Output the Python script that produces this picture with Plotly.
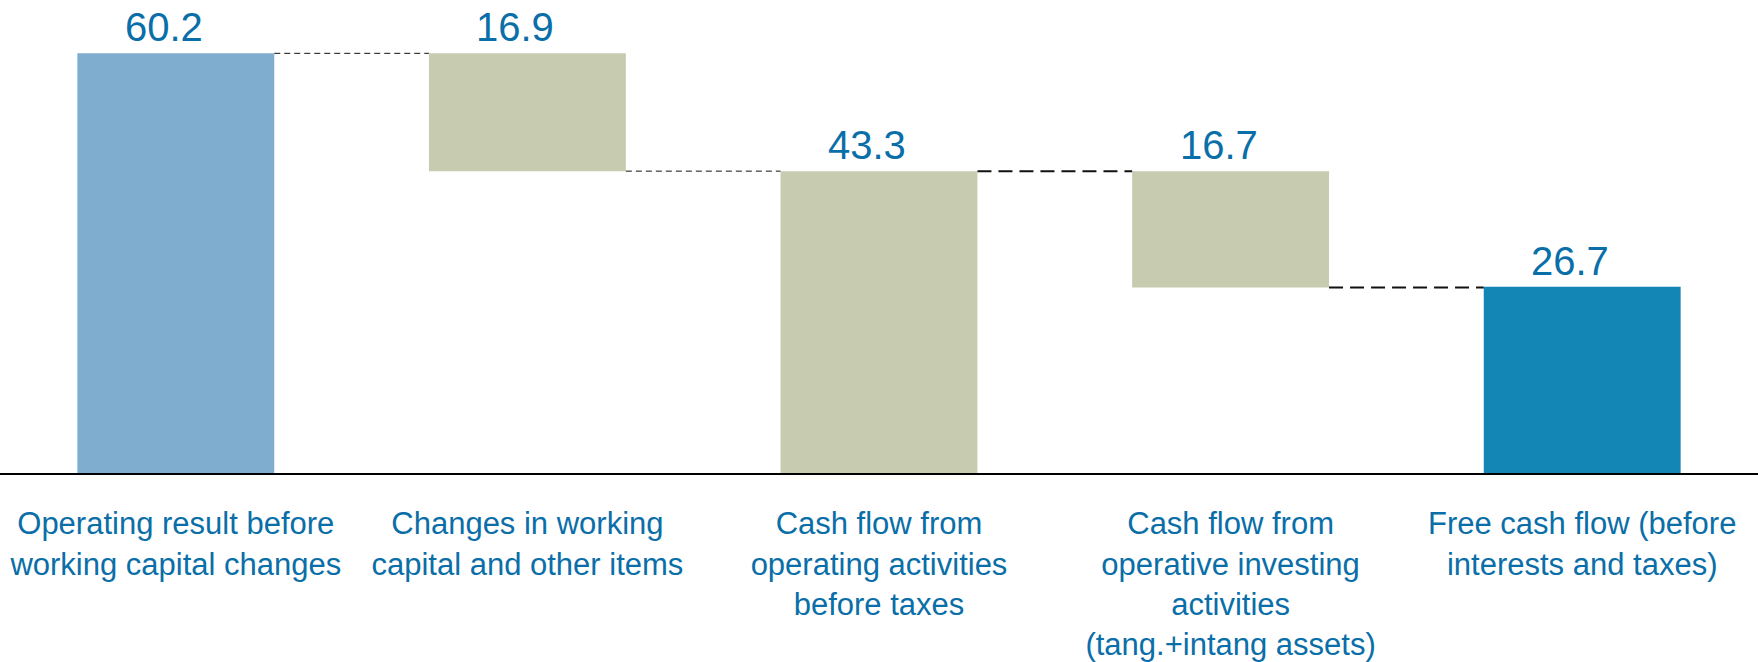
import plotly.graph_objects as go

# ---- data ----
categories = [
    "Operating result before<br>working capital changes",
    "Changes in working<br>capital and other items",
    "Cash flow from<br>operating activities<br>before taxes",
    "Cash flow from<br>operative investing<br>activities<br>(tang.+intang assets)",
    "Free cash flow (before<br>interests and taxes)",
]
values = [60.2, -16.9, 43.3, -16.7, 26.7]
kinds = ["total", "delta", "total", "delta", "total"]
labels = ["60.2", "16.9", "43.3", "16.7", "26.7"]
colors = ["#7EADCF", "#C7CCB0", "#C7CCB0", "#C7CCB0", "#1386B6"]

TEXT_BLUE = "#0A6EA8"
FONT = "Liberation Sans, Arial, sans-serif"
BAR_W = 0.56

# compute floating bar geometry
bases, heights = [], []
prev_total = 0.0
for i, (v, k) in enumerate(zip(values, kinds)):
    if k == "total":
        bases.append(0.0)
        heights.append(v)
        prev_total = v
    else:
        top = prev_total
        bottom = prev_total + v
        bases.append(bottom)
        heights.append(top - bottom)

xs = list(range(len(categories)))

fig = go.Figure()
fig.add_trace(go.Bar(
    x=xs, y=heights, base=bases, width=BAR_W,
    marker=dict(color=colors, line=dict(width=0)),
    hoverinfo="skip", showlegend=False,
))

tops = [b + h for b, h in zip(bases, heights)]
for i in xs:
    fig.add_annotation(
        x=i, y=tops[i], xref="x", yref="y", text=labels[i],
        showarrow=False, yanchor="bottom", xanchor="center",
        xshift=-12, yshift=3, borderpad=0,
        font=dict(family=FONT, size=40, color=TEXT_BLUE),
    )

# dashed connectors between consecutive bars
for i in range(len(xs) - 1):
    if kinds[i] == "total":
        level = tops[i]
    else:
        level = bases[i]
    thin = i < 2
    fig.add_shape(
        type="line", xref="x", yref="y",
        x0=i + BAR_W / 2, x1=i + 1 - BAR_W / 2, y0=level, y1=level,
        line=dict(color="#111111", width=1 if thin else 2,
                  dash="6px,4px" if thin else "14px,7px"),
    )

fig.update_layout(
    width=1758, height=662,
    margin=dict(l=0, r=0, t=0, b=183, pad=0),
    paper_bgcolor="white", plot_bgcolor="white",
    bargap=0.44,
    xaxis=dict(
        range=[-0.5, 4.5], tickmode="array", tickvals=xs, ticktext=categories,
        showline=True, linecolor="black", linewidth=2, ticks="",
        showgrid=False, zeroline=False, fixedrange=True,
        tickfont=dict(family=FONT, size=31, color=TEXT_BLUE),
        ticklabelstandoff=22,
    ),
    yaxis=dict(
        range=[0, 67.85], visible=False, showgrid=False, zeroline=False,
    ),
)

fig.write_html("out.html")
